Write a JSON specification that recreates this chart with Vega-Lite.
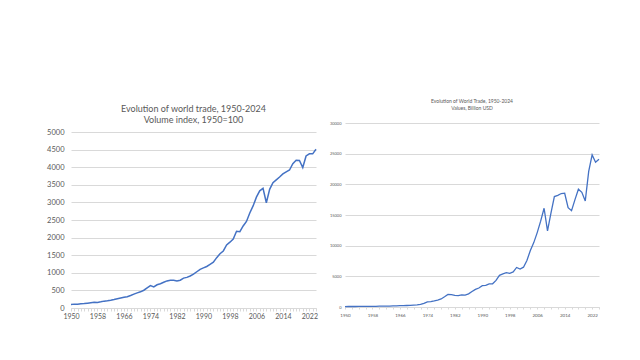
{
  "$schema": "https://vega.github.io/schema/vega-lite/v6.json",
  "padding": {"left": 46, "top": 99, "right": 0, "bottom": 0},
  "spacing": 10,
  "background": "white",
  "config": {
    "font": "Lato",
    "view": {"stroke": null},
    "axis": {"labelColor": "#595959", "grid": true, "gridColor": "#d9d9d9", "domainColor": "#d9d9d9", "tickColor": "#d9d9d9", "title": null},
    "title": {"color": "#595959", "fontWeight": "normal", "anchor": "middle"}
  },
  "datasets": {
    "volume": [
      {"year": 1950, "v": 100}, {"year": 1951, "v": 110}, {"year": 1952, "v": 110}, {"year": 1953, "v": 118}, {"year": 1954, "v": 125},
      {"year": 1955, "v": 137}, {"year": 1956, "v": 150}, {"year": 1957, "v": 160}, {"year": 1958, "v": 158}, {"year": 1959, "v": 175},
      {"year": 1960, "v": 195}, {"year": 1961, "v": 205}, {"year": 1962, "v": 220}, {"year": 1963, "v": 240}, {"year": 1964, "v": 265},
      {"year": 1965, "v": 285}, {"year": 1966, "v": 305}, {"year": 1967, "v": 320}, {"year": 1968, "v": 355}, {"year": 1969, "v": 395},
      {"year": 1970, "v": 430}, {"year": 1971, "v": 460}, {"year": 1972, "v": 505}, {"year": 1973, "v": 570}, {"year": 1974, "v": 635},
      {"year": 1975, "v": 600}, {"year": 1976, "v": 660}, {"year": 1977, "v": 690}, {"year": 1978, "v": 730}, {"year": 1979, "v": 770},
      {"year": 1980, "v": 790}, {"year": 1981, "v": 790}, {"year": 1982, "v": 770}, {"year": 1983, "v": 790}, {"year": 1984, "v": 850},
      {"year": 1985, "v": 870}, {"year": 1986, "v": 910}, {"year": 1987, "v": 960}, {"year": 1988, "v": 1030}, {"year": 1989, "v": 1100},
      {"year": 1990, "v": 1140}, {"year": 1991, "v": 1180}, {"year": 1992, "v": 1240}, {"year": 1993, "v": 1300}, {"year": 1994, "v": 1430},
      {"year": 1995, "v": 1540}, {"year": 1996, "v": 1620}, {"year": 1997, "v": 1790}, {"year": 1998, "v": 1870}, {"year": 1999, "v": 1960},
      {"year": 2000, "v": 2180}, {"year": 2001, "v": 2170}, {"year": 2002, "v": 2330}, {"year": 2003, "v": 2460}, {"year": 2004, "v": 2700},
      {"year": 2005, "v": 2900}, {"year": 2006, "v": 3150}, {"year": 2007, "v": 3330}, {"year": 2008, "v": 3400}, {"year": 2009, "v": 2990},
      {"year": 2010, "v": 3370}, {"year": 2011, "v": 3560}, {"year": 2012, "v": 3640}, {"year": 2013, "v": 3720}, {"year": 2014, "v": 3810},
      {"year": 2015, "v": 3870}, {"year": 2016, "v": 3920}, {"year": 2017, "v": 4100}, {"year": 2018, "v": 4200}, {"year": 2019, "v": 4190},
      {"year": 2020, "v": 3990}, {"year": 2021, "v": 4320}, {"year": 2022, "v": 4380}, {"year": 2023, "v": 4380}, {"year": 2024, "v": 4510}
    ],
    "value": [
      {"year": 1950, "v": 62}, {"year": 1951, "v": 82}, {"year": 1952, "v": 80}, {"year": 1953, "v": 83}, {"year": 1954, "v": 86},
      {"year": 1955, "v": 94}, {"year": 1956, "v": 104}, {"year": 1957, "v": 112}, {"year": 1958, "v": 108}, {"year": 1959, "v": 116},
      {"year": 1960, "v": 130}, {"year": 1961, "v": 135}, {"year": 1962, "v": 142}, {"year": 1963, "v": 157}, {"year": 1964, "v": 176},
      {"year": 1965, "v": 190}, {"year": 1966, "v": 209}, {"year": 1967, "v": 219}, {"year": 1968, "v": 243}, {"year": 1969, "v": 276},
      {"year": 1970, "v": 317}, {"year": 1971, "v": 354}, {"year": 1972, "v": 419}, {"year": 1973, "v": 580}, {"year": 1974, "v": 840},
      {"year": 1975, "v": 880}, {"year": 1976, "v": 990}, {"year": 1977, "v": 1130}, {"year": 1978, "v": 1310}, {"year": 1979, "v": 1660},
      {"year": 1980, "v": 2040}, {"year": 1981, "v": 2010}, {"year": 1982, "v": 1880}, {"year": 1983, "v": 1840}, {"year": 1984, "v": 1960},
      {"year": 1985, "v": 1950}, {"year": 1986, "v": 2140}, {"year": 1987, "v": 2520}, {"year": 1988, "v": 2870}, {"year": 1989, "v": 3100},
      {"year": 1990, "v": 3490}, {"year": 1991, "v": 3520}, {"year": 1992, "v": 3780}, {"year": 1993, "v": 3780}, {"year": 1994, "v": 4330},
      {"year": 1995, "v": 5170}, {"year": 1996, "v": 5400}, {"year": 1997, "v": 5590}, {"year": 1998, "v": 5500}, {"year": 1999, "v": 5720},
      {"year": 2000, "v": 6450}, {"year": 2001, "v": 6190}, {"year": 2002, "v": 6490}, {"year": 2003, "v": 7590}, {"year": 2004, "v": 9220},
      {"year": 2005, "v": 10500}, {"year": 2006, "v": 12130}, {"year": 2007, "v": 14000}, {"year": 2008, "v": 16100}, {"year": 2009, "v": 12400},
      {"year": 2010, "v": 15300}, {"year": 2011, "v": 18000}, {"year": 2012, "v": 18200}, {"year": 2013, "v": 18500}, {"year": 2014, "v": 18550},
      {"year": 2015, "v": 16200}, {"year": 2016, "v": 15700}, {"year": 2017, "v": 17500}, {"year": 2018, "v": 19200}, {"year": 2019, "v": 18700},
      {"year": 2020, "v": 17300}, {"year": 2021, "v": 22100}, {"year": 2022, "v": 24800}, {"year": 2023, "v": 23600}, {"year": 2024, "v": 24100}
    ]
  },
  "hconcat": [
    {
      "width": 245,
      "height": 185,
      "title": {"text": ["Evolution of world trade, 1950-2024", "Volume index, 1950=100"], "fontSize": 9, "lineHeight": 11, "offset": -2},
      "data": {"name": "volume"},
      "mark": {"type": "line", "color": "#4472C4", "strokeWidth": 1.5},
      "encoding": {
        "x": {"field": "year", "type": "quantitative", "scale": {"domain": [1950, 2024], "nice": false, "zero": false},
              "axis": {"values": [1950,1951,1952,1953,1954,1955,1956,1957,1958,1959,1960,1961,1962,1963,1964,1965,1966,1967,1968,1969,1970,1971,1972,1973,1974,1975,1976,1977,1978,1979,1980,1981,1982,1983,1984,1985,1986,1987,1988,1989,1990,1991,1992,1993,1994,1995,1996,1997,1998,1999,2000,2001,2002,2003,2004,2005,2006,2007,2008,2009,2010,2011,2012,2013,2014,2015,2016,2017,2018,2019,2020,2021,2022,2023,2024],
                       "labelExpr": "(datum.value - 1950) % 8 == 0 ? datum.value : ''", "labelOverlap": false, "labelBound": false,
                       "grid": false, "labelFontSize": 7, "labelPadding": 1, "tickSize": 3, "domain": true, "labelFlush": false}},
        "y": {"field": "v", "type": "quantitative", "scale": {"domain": [0, 5256], "nice": false},
              "axis": {"values": [0, 500, 1000, 1500, 2000, 2500, 3000, 3500, 4000, 4500, 5000], "format": "d", "labelFontSize": 7.5, "labelPadding": 7, "tickSize": 0, "domain": false}}
      }
    },
    {
      "width": 254,
      "height": 184,
      "title": {"text": ["Evolution of World Trade, 1950-2024", "Values, Billion USD"], "fontSize": 5, "lineHeight": 7, "offset": 10},
      "data": {"name": "value"},
      "mark": {"type": "line", "color": "#4472C4", "strokeWidth": 1.3},
      "encoding": {
        "x": {"field": "year", "type": "quantitative", "scale": {"domain": [1950, 2024], "nice": false, "zero": false},
              "axis": {"values": [1950,1952,1954,1956,1958,1960,1962,1964,1966,1968,1970,1972,1974,1976,1978,1980,1982,1984,1986,1988,1990,1992,1994,1996,1998,2000,2002,2004,2006,2008,2010,2012,2014,2016,2018,2020,2022,2024],
                       "labelExpr": "(datum.value - 1950) % 8 == 0 ? datum.value : ''", "labelOverlap": false, "labelBound": false,
                       "grid": false, "labelFontSize": 4.5, "labelPadding": 3, "tickSize": 2, "domain": true, "labelFlush": false}},
        "y": {"field": "v", "type": "quantitative", "scale": {"domain": [0, 30000], "nice": false},
              "axis": {"values": [0, 5000, 10000, 15000, 20000, 25000, 30000], "format": "d", "labelFontSize": 4, "labelPadding": 4, "tickSize": 0, "domain": false}}
      }
    }
  ]
}
